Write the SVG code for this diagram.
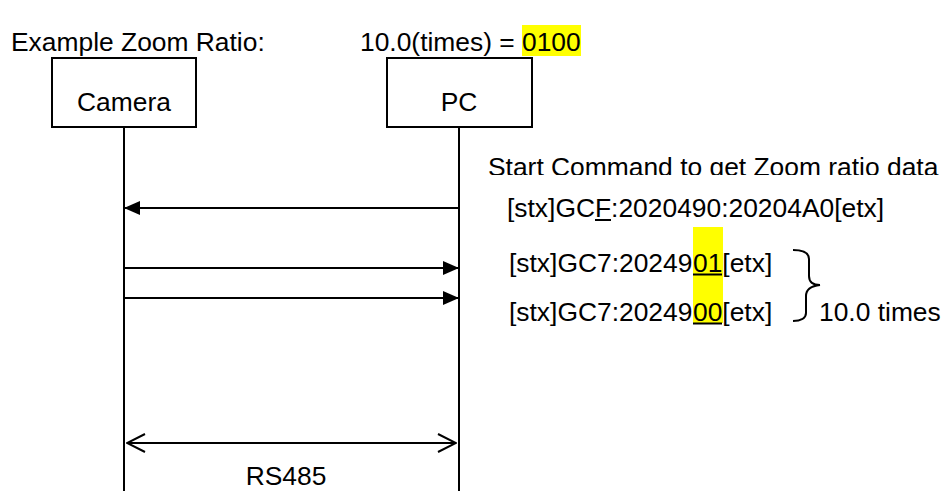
<svg xmlns="http://www.w3.org/2000/svg" width="948" height="503" viewBox="0 0 948 503">
  <style>
    text { font-family: "Liberation Sans", Arial, sans-serif; font-size: 26.4px; fill: #000; }
    .mid { text-anchor: middle; }
    .box { fill: #fff; stroke: #000; stroke-width: 2; }
    .life { stroke: #000; stroke-width: 2; fill: none; }
    .msg { stroke: #000; stroke-width: 2; fill: none; }
    .hl { fill: #ffff00; }
    .ul { stroke: #000; stroke-width: 2; }
  </style>
  <defs>
    <marker id="solid" viewBox="0 0 16 14" refX="16" refY="7" markerWidth="16" markerHeight="14" markerUnits="userSpaceOnUse" orient="auto">
      <path d="M0,0 L16,7 L0,14 Z" fill="#000"/>
    </marker>
    <marker id="open" viewBox="0 0 20 20" refX="19" refY="10" markerWidth="20" markerHeight="20" markerUnits="userSpaceOnUse" orient="auto-start-reverse">
      <path d="M1,1 L19,10 L1,19" fill="none" stroke="#000" stroke-width="2"/>
    </marker>
    <clipPath id="clipTitle">
      <rect x="480" y="140" width="468" height="35"/>
    </clipPath>
  </defs>

  <!-- highlight marks behind the text -->
  <rect class="hl" x="522" y="25" width="59" height="31"/>
  <rect class="hl" x="693" y="227" width="30" height="96"/>

  <!-- heading -->
  <text x="11" y="51">Example Zoom Ratio:</text>
  <text x="360" y="51">10.0(times) = <tspan x="522">0100</tspan></text>

  <!-- lifelines -->
  <g id="node-camera">
    <line class="life" x1="124" y1="127" x2="124" y2="491"/>
    <rect class="box" x="52" y="58" width="144" height="69"/>
    <text class="mid" x="124" y="111">Camera</text>
  </g>
  <g id="node-pc">
    <line class="life" x1="459" y1="127" x2="459" y2="491"/>
    <rect class="box" x="387" y="58" width="145" height="69"/>
    <text class="mid" x="459" y="111">PC</text>
  </g>

  <!-- messages -->
  <g id="connectors">
    <line class="msg" x1="459" y1="208" x2="124" y2="208" marker-end="url(#solid)"/>
    <line class="msg" x1="124" y1="268" x2="459" y2="268" marker-end="url(#solid)"/>
    <line class="msg" x1="124" y1="298" x2="459" y2="298" marker-end="url(#solid)"/>
    <line class="msg" x1="127" y1="443" x2="456" y2="443" marker-start="url(#open)" marker-end="url(#open)"/>
  </g>

  <!-- message labels -->
  <g id="labels">
    <text x="488" y="176" clip-path="url(#clipTitle)">Start Command to get Zoom ratio data</text>
    <text x="507" y="217">[stx]GCF:2020490:20204A0[etx]</text>
    <line class="ul" x1="595" y1="220" x2="611" y2="220"/>

    <text x="509" y="272">[stx]GC7:20249<tspan x="693">01</tspan>[etx]</text>
    <line class="ul" x1="693" y1="274.5" x2="722" y2="274.5"/>
    <text x="509" y="321">[stx]GC7:20249<tspan x="693">00</tspan>[etx]</text>
    <line class="ul" x1="693" y1="323.5" x2="722" y2="323.5"/>

    <path class="msg" d="M793,250 C801,250 809,252 809,259 L809,276 C809,282 813,285 820,285 C811,286 806,290 806,296 L806,313 C806,318 801,321 793,321"/>
    <text x="819" y="321">10.0 times</text>

    <text class="mid" x="286" y="485">RS485</text>
  </g>
</svg>
